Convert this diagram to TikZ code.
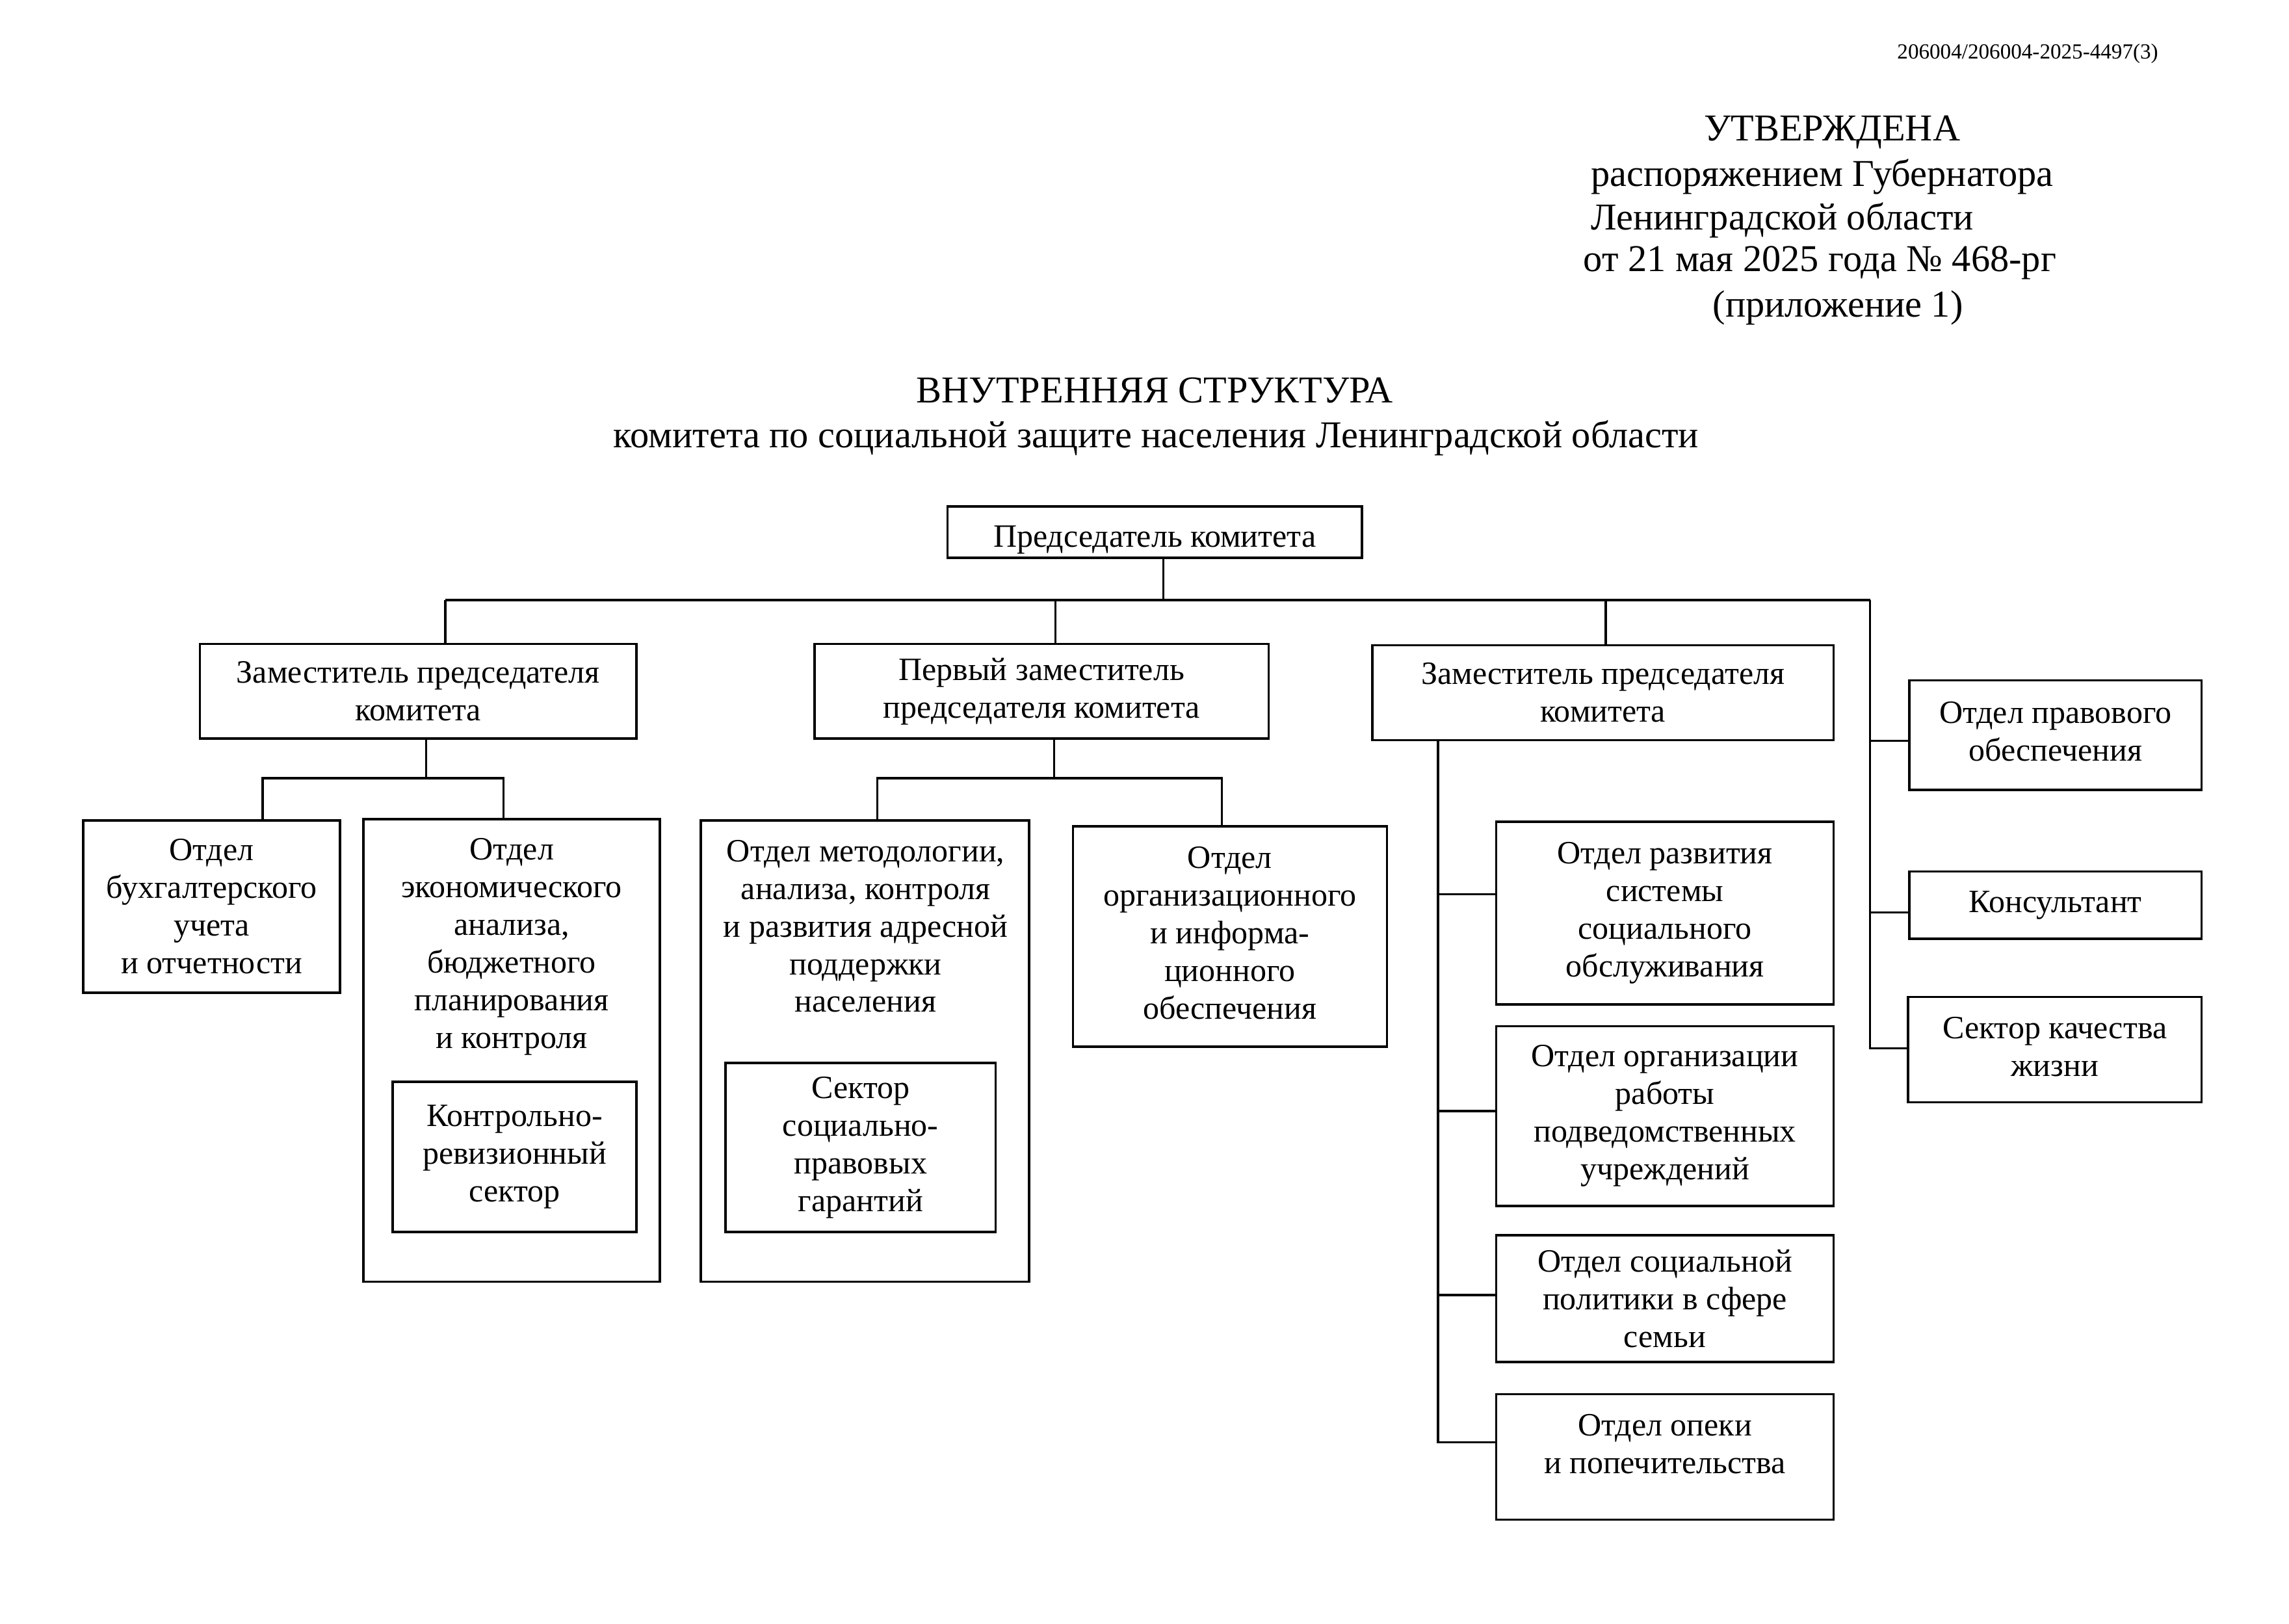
\documentclass[tikz,border=0pt]{standalone}
\usepackage{fontspec}
\setmainfont{Liberation Serif}
\newcommand\uu{0.018941cm}
\newcommand\orgnode[6]{\node[orgbox, minimum width={(#4-#2)*\uu}, minimum height={(#5-#3)*\uu}] (#1) at ({(#2+#4)/2},{(#3+#5)/2}) {#6};}
\begin{document}
\begin{tikzpicture}[x=0.018941cm,y=-0.018941cm, line width=0.85pt,
  orgbox/.style={draw, rectangle, inner sep=0pt, align=center, font=\fontsize{12}{13.9}\selectfont},
  txt/.style={inner sep=0pt, align=center, font=\fontsize{12}{13.9}\selectfont},
  hdr/.style={inner sep=0pt, font=\fontsize{14}{16}\selectfont}]
\useasboundingbox[fill=white] (0,0) rectangle (1568,1112.4);

% header
\node[hdr, anchor=base] (h0) at (1389,40.5) {\fontsize{7.95}{9}\selectfont 206004/206004-2025-4497(3)};
\node[hdr, anchor=base] (h1) at (1255,96.5) {УТВЕРЖДЕНА};
\node[hdr, anchor=base west] (h2) at (1089,127.5) {распоряжением Губернатора};
\node[hdr, anchor=base west] (h3) at (1089,157.5) {Ленинградской области};
\node[hdr, anchor=base west] (h4) at (1084,186) {от 21 мая 2025 года № 468-рг};
\node[hdr, anchor=base] (h5) at (1259,217) {(приложение 1)};
\node[hdr, anchor=base] (t1) at (791,276) {ВНУТРЕННЯЯ СТРУКТУРА};
\node[hdr, anchor=base] (t2) at (792,306.5) {комитета по социальной защите населения Ленинградской области};

% boxes
\orgnode{pred}{649}{347}{933}{382}{}
\node[txt] (predT) at (791,370) {Председатель комитета};
\orgnode{zam1}{137}{441}{436}{506}{Заместитель председателя\\комитета}
\orgnode{perv}{558}{441}{869}{506}{Первый заместитель\\председателя комитета}
\orgnode{zam2}{940}{442}{1256}{507}{Заместитель председателя\\комитета}
\orgnode{legal}{1308}{466}{1508}{541}{}
\node[txt] (legalT) at (1408,501) {Отдел правового\\обеспечения};
\orgnode{cons}{1308}{597}{1508}{643}{Консультант}
\orgnode{qual}{1307}{683}{1508}{755}{}
\node[txt] (qualT) at (1407.5,717) {Сектор качества\\жизни};
\orgnode{buh}{57}{562}{233}{680}{Отдел\\бухгалтерского\\учета\\и отчетности}
\orgnode{econ}{249}{561}{452}{878}{}
\node[txt] (econT) at (350.5,648.5) {Отдел\\экономического\\анализа,\\бюджетного\\планирования\\и контроля};
\orgnode{kr}{269}{741}{436}{844}{Контрольно-\\ревизионный\\сектор}
\orgnode{metod}{480}{562}{705}{878}{}
\node[txt] (metodT) at (593,634.5) {Отдел методологии,\\анализа, контроля\\и развития адресной\\поддержки\\населения};
\orgnode{ssp}{497}{728}{682}{844}{Сектор\\социально-\\правовых\\гарантий}
\orgnode{orginf}{735}{566}{950}{717}{}
\node[txt] (orginfT) at (842.5,639) {Отдел\\организационного\\и информа-\\ционного\\обеспечения};
\orgnode{razv}{1025}{563}{1256}{688}{Отдел развития\\системы\\социального\\обслуживания}
\orgnode{podv}{1025}{703}{1256}{826}{Отдел организации\\работы\\подведомственных\\учреждений}
\orgnode{sem}{1025}{846}{1256}{933}{Отдел социальной\\политики в сфере\\семьи}
\orgnode{opeka}{1025}{955}{1256}{1041}{}
\node[txt] (opekaT) at (1140.5,989) {Отдел опеки\\и попечительства};

% connectors
\coordinate (busL) at (305,411);
\coordinate (busR) at (1281,411);
\coordinate (busC) at (797,411);
\coordinate (dP) at (723,411);
\coordinate (dZ) at (1100,411);
\draw (pred.south -| busC) -- (busC);
\draw (busL) -- (busR);
\draw (busL) -- (busL |- zam1.north);
\draw (dP) -- (dP |- perv.north);
\draw (dZ) -- (dZ |- zam2.north);
\draw (busR) |- ([yshift=-4*\uu]legal.west);
\draw (busR) |- ([yshift=-5*\uu]cons.west);
\draw (busR) |- ([yshift=1*\uu]qual.west);

\coordinate (j1) at (292,533);
\coordinate (c1) at (180,533);
\coordinate (c2) at (345,533);
\draw (j1 |- zam1.south) -- (j1);
\draw (c1 |- buh.north) -- (c1) -- (c2) -- (c2 |- econ.north);

\coordinate (j2) at (722,533);
\coordinate (c3) at (601,533);
\coordinate (c4) at (837,533);
\draw (j2 |- perv.south) -- (j2);
\draw (c3 |- metod.north) -- (c3) -- (c4) -- (c4 |- orginf.north);

\coordinate (sp) at (985,507);
\draw (sp) |- ([yshift=13*\uu]razv.west);
\draw (sp) |- ([yshift=3.5*\uu]podv.west);
\draw (sp) |- ([yshift=2.5*\uu]sem.west);
\draw (sp) |- ([yshift=10*\uu]opeka.west);
\end{tikzpicture}
\end{document}
